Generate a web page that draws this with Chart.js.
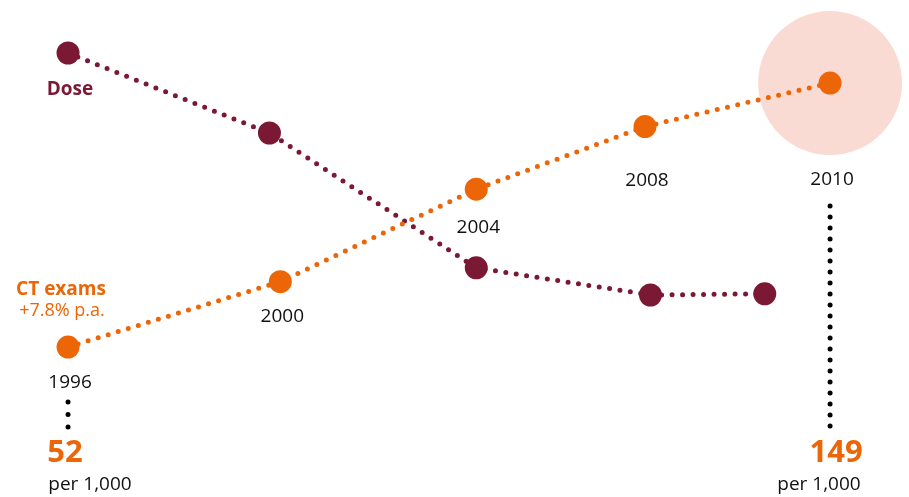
<!DOCTYPE html>
<html>
<head>
<meta charset="utf-8">
<script src="https://cdn.jsdelivr.net/npm/chart.js@4"></script>
<style>
  html, body { margin: 0; padding: 0; background: #fff; }
  #wrap { width: 909px; height: 497px; position: relative; }
</style>
</head>
<body>
<div id="wrap"><canvas id="grafico"></canvas></div>
<script>
// data
const anos = ["1996", "2000", "2004", "2008", "2010"];
const ctAnos = [1996, 1999.9, 2003.5, 2006.6, 2010];      // where the CT dots sit
const ctExames = [52, 76, 110, 133, 149];                 // CT exams per 1,000
const doseAnos = [1996, 1999.7, 2003.5, 2006.7, 2008.8];
const doseValores = [100, 80, 46.3, 39.5, 39.8];          // dose index

const laranja = "#ec6608";
const vinho = "#7b1934";
const rosa = "#fadbd3";
const texto = "#111";

// vertical offset of each year label under its CT dot
const offsetAno = [36, 35, 38, 54, 97];

const rotulosPlugin = {
    id: "rotulos",
    afterDatasetsDraw(chart) {
        const ctx = chart.ctx;
        const x = chart.scales.x;
        const y = chart.scales.y;
        const y2 = chart.scales.y2;
        ctx.save();
        ctx.textAlign = "center";
        ctx.textBaseline = "middle";

        // year labels
        ctx.fillStyle = texto;
        ctx.font = "19px 'Open Sans'";
        anos.forEach((ano, i) => {
            const px = x.getPixelForValue(ctAnos[i]);
            const py = y.getPixelForValue(ctExames[i]);
            ctx.fillText(ano, px + 2, py + offsetAno[i]);
        });

        // dotted leaders
        ctx.strokeStyle = "#000";
        ctx.lineWidth = 5;
        ctx.lineCap = "round";
        ctx.setLineDash([0, 12.5]);
        const x0 = x.getPixelForValue(ctAnos[0]);
        ctx.beginPath();
        ctx.moveTo(x0, 402);
        ctx.lineTo(x0, 428);
        ctx.stroke();
        ctx.setLineDash([0, 11]);
        const x1 = x.getPixelForValue(ctAnos[4]);
        ctx.beginPath();
        ctx.moveTo(x1, 206);
        ctx.lineTo(x1, 428);
        ctx.stroke();
        ctx.setLineDash([]);

        // series names
        const dx = x.getPixelForValue(doseAnos[0]);
        const dy = y2.getPixelForValue(doseValores[0]);
        ctx.fillStyle = vinho;
        ctx.font = "bold 19px 'Open Sans'";
        ctx.fillText("Dose", dx + 2, dy + 37);

        ctx.fillStyle = laranja;
        ctx.fillText("CT exams", 61, 290);
        ctx.font = "18px 'Open Sans'";
        ctx.fillText("+7.8% p.a.", 62, 311);

        // start / end values
        ctx.font = "bold 31px 'Open Sans'";
        ctx.fillText(String(ctExames[0]), x0 - 3, 453);
        ctx.fillText(String(ctExames[4]), x1 + 6, 453);
        ctx.fillStyle = texto;
        ctx.font = "19px 'Open Sans'";
        ctx.fillText("per 1,000", 90, 485);
        ctx.fillText("per 1,000", 819, 485);
        ctx.restore();
    }
};

new Chart(document.getElementById("grafico"), {
    type: "line",
    data: {
        datasets: [
            {
                label: "destaque",
                data: [{ x: ctAnos[4], y: ctExames[4] }],
                showLine: false,
                clip: false,
                pointRadius: 72,
                pointHoverRadius: 72,
                pointBackgroundColor: rosa,
                pointBorderWidth: 0,
                order: 3
            },
            {
                label: "Dose",
                data: doseAnos.map((a, i) => ({ x: a, y: doseValores[i] })),
                yAxisID: "y2",
                clip: false,
                borderColor: vinho,
                borderWidth: 5,
                borderDash: [0, 10.5],
                borderCapStyle: "round",
                pointRadius: 11.5,
                pointHoverRadius: 11.5,
                pointBackgroundColor: vinho,
                pointBorderWidth: 0,
                order: 2
            },
            {
                label: "CT exams",
                data: ctAnos.map((a, i) => ({ x: a, y: ctExames[i] })),
                yAxisID: "y",
                clip: false,
                borderColor: laranja,
                borderWidth: 5,
                borderDash: [0, 10.5],
                borderCapStyle: "round",
                pointRadius: 11.5,
                pointHoverRadius: 11.5,
                pointBackgroundColor: laranja,
                pointBorderWidth: 0,
                order: 1
            }
        ]
    },
    options: {
        responsive: true,
        maintainAspectRatio: false,
        animation: false,
        layout: { padding: 0, autoPadding: false },
        plugins: {
            legend: { display: false },
            tooltip: { enabled: false }
        },
        scales: {
            x: { type: "linear", display: false, min: 1994.75, max: 2011.45 },
            y: { type: "linear", display: false, min: -3.1, max: 179.5 },
            y2: { type: "linear", display: false, min: -11, max: 113.25 }
        }
    },
    plugins: [rotulosPlugin]
});
</script>
</body>
</html>
